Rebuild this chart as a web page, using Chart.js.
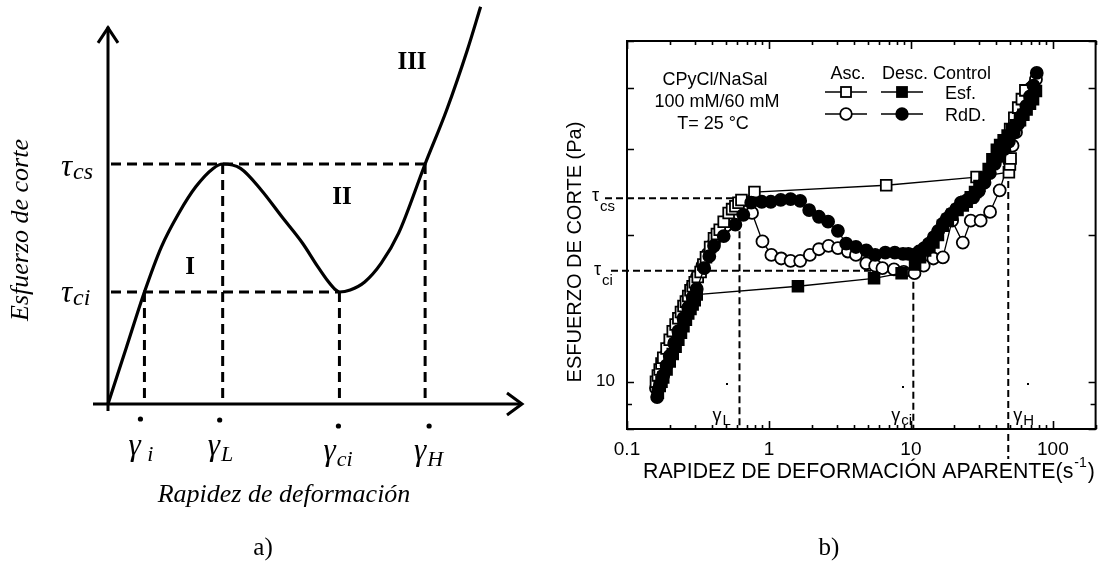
<!DOCTYPE html>
<html lang="es">
<head>
<meta charset="UTF-8">
<title>Esfuerzo de corte vs rapidez de deformación</title>
<script src="https://cdn.jsdelivr.net/npm/chart.js@4.4.1/dist/chart.umd.min.js"></script>
<style>
  html, body { margin: 0; padding: 0; background: #fff; }
  body { width: 1105px; height: 563px; position: relative; overflow: hidden; }
  #panelA { position: absolute; left: 0; top: 0; width: 540px; height: 563px; }
  #panelB { position: absolute; left: 540px; top: 0; width: 565px; height: 563px; }
</style>
</head>
<body>
<div id="panelA"><canvas id="chartA"></canvas></div>
<div id="panelB"><canvas id="chartB"></canvas></div>

<script>
// ---------- a) curva esquemática ----------
const curveX = [0, 4.4, 8.8, 12.9, 17.1, 21.2, 25.4, 27.7, 32.0, 37.0, 42.0, 47.0, 50.5, 53.2, 54.8, 55.9, 58.5, 62.0, 66.0, 70.2, 76.6, 81.8, 86.8, 90.0];
const curveY = [0, 14.0, 28.0, 39.3, 47.7, 54.3, 58.9, 60.0, 58.9, 53.5, 46.8, 40.2, 34.6, 30.6, 28.7, 28.0, 28.5, 30.5, 35.2, 42.7, 60.0, 73.5, 88.5, 99.3];
const tauLevels = [60, 28];              // tau_cs, tau_ci
const tauNames = ['cs', 'ci'];
const gammaX = [8.8, 27.7, 55.9, 76.6];  // gamma_i, gamma_L, gamma_ci, gamma_H
const gammaTop = [28, 60, 28, 60];
const gammaNames = ['i', 'L', 'ci', 'H'];
const regionNames = ['I', 'II', 'III'];

// ---------- b) datos experimentales ----------
// Asc. / Esf. (cuadro abierto)
const ascEsfX = [0.16,0.165,0.17,0.175,0.18,0.19,0.20,0.21,0.22,0.23,0.24,0.25,0.26,0.27,0.28,0.29,0.30,0.315,0.33,0.345,0.36,0.385,0.41,0.43,0.45,0.48,0.52,0.55,0.58,0.61,0.64,0.79,6.7,29,49,49.8,50.4,47.5,50,53.5,57,60.5,64];
const ascEsfY = [10.0,10.3,10.6,10.9,11.2,11.7,12.2,12.7,13.1,13.5,13.9,14.3,14.6,15.0,15.4,15.7,16.0,16.4,16.8,17.4,18.0,18.9,19.7,20.1,20.5,21.3,22.2,22.6,22.9,23.3,23.6,24.5,25.3,26.3,26.9,27.9,28.7,31.2,33.0,34.8,36.5,38.0,39.6];
// Desc. / Esf. (cuadro lleno)
const descEsfX = [76,72.5,69,65.3,62,58.7,55,51.5,48,45,42.5,40.3,37.5,35.3,33,30.4,28.3,26.4,24.7,23.2,21.3,19.6,18.2,16.8,15.5,14.4,13.5,12.6,11.6,10.7,8.6,5.5,1.6,0.31,0.30,0.29,0.28,0.27,0.26,0.25,0.24,0.23,0.22,0.21,0.20,0.19,0.18,0.175,0.17,0.165];
const descEsfY = [39.5,38.0,37.2,36.2,35.3,34.4,33.6,32.8,32.0,31.3,30.6,29.9,28.6,27.3,26.2,25.2,24.5,23.9,23.4,23.0,22.5,22.0,21.5,20.9,20.0,19.3,19.0,18.6,18.0,17.4,16.7,16.3,15.7,15.1,14.7,14.4,14.1,13.8,13.4,13.0,12.6,12.2,11.8,11.4,11.0,10.6,10.2,10.0,9.8,9.5];
// Asc. / RdD. (círculo abierto)
const ascRdDX = [0.16,0.17,0.18,0.19,0.20,0.215,0.23,0.25,0.27,0.29,0.31,0.34,0.37,0.41,0.45,0.50,0.55,0.61,0.68,0.76,0.90,1.04,1.22,1.42,1.66,1.94,2.25,2.63,3.06,3.6,4.1,4.85,5.6,6.3,7.6,8.9,10.6,12.3,14.4,16.8,19.5,23.2,26.4,31,36.1,42.2,49.1,52,55,58,62,66,70,76];
const ascRdDY = [9.7,10.3,10.9,11.4,11.9,12.6,13.3,14.1,14.9,15.7,16.4,17.3,18.3,19.3,20.1,20.9,21.5,22.0,22.3,22.2,19.4,18.2,17.9,17.7,17.7,18.2,18.7,19.0,18.8,18.5,18.2,17.5,17.3,17.1,17.0,16.8,16.7,17.3,17.9,18.0,21.4,19.3,21.4,21.4,22.3,24.7,28.4,30.5,32.5,34.5,36.5,38.5,40.0,41.7];
// Desc. / RdD. (círculo lleno)
const descRdDX = [77,73,69,65,61,57,53,49,45.5,42,39,36,33,30,27.5,25,22.5,20.8,19.2,17.9,16.8,15.6,14.5,13.4,12.4,11.4,10.4,9.6,8.8,7.7,6.6,5.6,4.85,4.1,3.5,3.06,2.61,2.25,1.92,1.66,1.42,1.21,1.03,0.89,0.75,0.66,0.58,0.48,0.41,0.38,0.35,0.31,0.29,0.27,0.25,0.23,0.215,0.20,0.19,0.18,0.17,0.163];
const descRdDY = [43.0,40.5,38.5,36.8,35.3,33.8,32.4,31.1,30.0,29.0,28.0,26.8,25.6,24.6,23.9,23.6,23.3,22.6,22.1,21.6,21.1,20.4,19.8,19.2,18.8,18.5,18.2,18.3,18.3,18.4,18.4,18.2,18.6,18.9,19.2,20.4,21.3,21.8,22.5,23.5,23.7,23.6,23.4,23.4,23.3,22.0,21.0,19.9,19.0,18.1,17.1,15.5,14.9,14.2,13.5,12.7,12.0,11.3,10.8,10.3,9.8,9.3];

// ejes de b)
const xTicks = [0.1,0.2,0.3,0.4,0.5,0.6,0.7,0.8,0.9,1,2,3,4,5,6,7,8,9,10,20,30,40,50,60,70,80,90,100,200];
const xLabelVals = [0.1, 1, 10, 100];
const xLabelText = ['0.1', '1', '10', '100'];
const yTicks = [8, 9, 10, 20, 30, 40, 50];
const yLabelVals = [10];
const yLabelText = ['10'];
// niveles críticos de b)
const tauB = [23.8, 16.9];               // tau_cs, tau_ci
const gammaB = [0.62, 10.4, 48.5];       // gamma_L, gamma_ci, gamma_H
const gammaBNames = ['L', 'ci', 'H'];
const gammaBTop = [23.8, 16.9, 27.2];

const SERIF = '"Liberation Serif", "Times New Roman", serif';
const SANS = '"Liberation Sans", Arial, sans-serif';
const OFFSET_B = 540;   // borde izquierdo del lienzo b) en la página

function pts(xs, ys) {
  return xs.map((x, i) => ({ x: x, y: ys[i] }));
}

function withSub(ctx, base, sub, x, y, font, subFont, dy) {
  ctx.font = font;
  ctx.fillText(base, x, y);
  const w = ctx.measureText(base).width;
  ctx.font = subFont;
  ctx.fillText(sub, x + w + 1, y + dy);
}

// ---------- panel a ----------
const schemaPlugin = {
  id: 'schema',
  beforeDatasetsDraw(chart) {
    const { ctx, scales: { x, y } } = chart;
    ctx.save();
    ctx.strokeStyle = '#000';
    ctx.lineWidth = 3;
    ctx.setLineDash([10, 6]);
    ctx.beginPath();
    ctx.moveTo(x.getPixelForValue(0) + 3, y.getPixelForValue(tauLevels[0]));
    ctx.lineTo(x.getPixelForValue(gammaX[3]), y.getPixelForValue(tauLevels[0]));
    ctx.moveTo(x.getPixelForValue(0) + 3, y.getPixelForValue(tauLevels[1]));
    ctx.lineTo(x.getPixelForValue(gammaX[2]), y.getPixelForValue(tauLevels[1]));
    gammaX.forEach((g, i) => {
      ctx.moveTo(x.getPixelForValue(g), y.getPixelForValue(gammaTop[i]));
      ctx.lineTo(x.getPixelForValue(g), y.getPixelForValue(0) - 2);
    });
    ctx.stroke();
    ctx.restore();
  },
  afterDraw(chart) {
    const { ctx, scales: { x, y } } = chart;
    const x0 = x.getPixelForValue(0), y0 = y.getPixelForValue(0);
    const xEnd = x.getPixelForValue(100), yEnd = y.getPixelForValue(94.3);
    ctx.save();
    ctx.strokeStyle = '#000';
    ctx.fillStyle = '#000';
    ctx.lineWidth = 3;
    ctx.beginPath();
    ctx.moveTo(x0, y0 + 7);
    ctx.lineTo(x0, yEnd);
    ctx.moveTo(x0 - 15, y0);
    ctx.lineTo(xEnd, y0);
    ctx.stroke();
    // puntas de flecha
    ctx.beginPath();
    ctx.moveTo(x0 - 10, yEnd + 16);
    ctx.lineTo(x0, yEnd + 1);
    ctx.lineTo(x0 + 10, yEnd + 16);
    ctx.moveTo(xEnd - 15, y0 - 11);
    ctx.lineTo(xEnd, y0);
    ctx.lineTo(xEnd - 15, y0 + 11);
    ctx.stroke();

    // tau
    ctx.textAlign = 'left';
    ctx.textBaseline = 'alphabetic';
    const tauDy = [12, 10];
    tauLevels.forEach((t, i) => {
      withSub(ctx, 'τ', tauNames[i], 61, y.getPixelForValue(t) + tauDy[i],
        'italic 31px ' + SERIF, 'italic 24px ' + SERIF, 3);
    });

    // gamma con punto
    const dotY = [419, 420, 426, 426];
    const dotDx = [-4, -3, -1, 4];
    const labY = [455, 455, 460, 460];
    const labDx = [-16, -15, -16, -11];
    gammaX.forEach((g, i) => {
      const px = x.getPixelForValue(g);
      ctx.beginPath();
      ctx.arc(px + dotDx[i], dotY[i], 2.6, 0, Math.PI * 2);
      ctx.fill();
      withSub(ctx, 'γ', (i === 0 ? ' ' : '') + gammaNames[i], px + labDx[i], labY[i],
        'italic 31px ' + SERIF, 'italic 22px ' + SERIF, 6);
    });

    // regiones
    ctx.textAlign = 'center';
    ctx.textBaseline = 'middle';
    ctx.font = 'bold 25px ' + SERIF;
    ctx.fillText(regionNames[0], 190, 268);
    ctx.fillText(regionNames[1], 342, 198);
    ctx.fillText(regionNames[2], 412, 63);

    // títulos
    ctx.font = 'italic 26px ' + SERIF;
    ctx.fillText('Rapidez de deformación', 284, 495);
    ctx.save();
    ctx.translate(21, 230);
    ctx.rotate(-Math.PI / 2);
    ctx.fillText('Esfuerzo de corte', 0, 0);
    ctx.restore();
    ctx.font = '25px ' + SERIF;
    ctx.fillText('a)', 263, 548);
    ctx.restore();
  }
};

new Chart(document.getElementById('chartA'), {
  type: 'scatter',
  data: {
    datasets: [{
      data: pts(curveX, curveY),
      showLine: true,
      borderColor: '#000',
      borderWidth: 3.2,
      pointRadius: 0,
      cubicInterpolationMode: 'monotone',
      clip: false
    }]
  },
  options: {
    responsive: true,
    maintainAspectRatio: false,
    animation: false,
    layout: { padding: { left: 108, right: 18, top: 4, bottom: 159 } },
    plugins: { legend: { display: false }, tooltip: { enabled: false } },
    scales: {
      x: { type: 'linear', min: 0, max: 100, display: false },
      y: { type: 'linear', min: 0, max: 100, display: false }
    }
  },
  plugins: [schemaPlugin]
});

// ---------- panel b ----------
const frameB = {
  id: 'frameB',
  beforeDatasetsDraw(chart) {
    const { ctx, chartArea: a, scales: { x, y } } = chart;
    ctx.save();
    ctx.strokeStyle = '#000';
    ctx.lineWidth = 2;
    ctx.setLineDash([7, 4]);
    ctx.beginPath();
    ctx.moveTo(a.left - 22, y.getPixelForValue(tauB[0]));
    ctx.lineTo(x.getPixelForValue(gammaB[0]), y.getPixelForValue(tauB[0]));
    ctx.moveTo(a.left - 16, y.getPixelForValue(tauB[1]));
    ctx.lineTo(x.getPixelForValue(gammaB[1]), y.getPixelForValue(tauB[1]));
    gammaB.forEach((g, i) => {
      ctx.moveTo(x.getPixelForValue(g), y.getPixelForValue(gammaBTop[i]));
      ctx.lineTo(x.getPixelForValue(g), a.bottom + (i === 2 ? 30 : 0));
    });
    ctx.stroke();
    ctx.restore();
  },
  afterDraw(chart) {
    const { ctx, chartArea: a, scales: { x, y } } = chart;
    const L = v => v - OFFSET_B;
    ctx.save();
    ctx.strokeStyle = '#000';
    ctx.fillStyle = '#000';
    ctx.lineWidth = 2;
    ctx.strokeRect(a.left, a.top, a.right - a.left, a.bottom - a.top);
    // marcas hacia dentro
    ctx.beginPath();
    xTicks.forEach(v => {
      const px = Math.round(x.getPixelForValue(v)) + 0.5;
      const len = xLabelVals.includes(v) ? 8 : 4;
      ctx.moveTo(px, a.bottom); ctx.lineTo(px, a.bottom - len);
      ctx.moveTo(px, a.top); ctx.lineTo(px, a.top + len);
    });
    yTicks.forEach(v => {
      const py = Math.round(y.getPixelForValue(v)) + 0.5;
      const len = v === 9 ? 5 : 7;
      ctx.moveTo(a.left, py); ctx.lineTo(a.left + len, py);
      ctx.moveTo(a.right, py); ctx.lineTo(a.right - len, py);
    });
    ctx.lineWidth = 1.6;
    ctx.stroke();

    // títulos de ejes
    ctx.textBaseline = 'alphabetic';
    ctx.textAlign = 'left';
    ctx.font = '21.3px ' + SANS;
    const t1 = 'RAPIDEZ DE DEFORMACIÓN APARENTE(s';
    const tx = L(643);
    ctx.fillText(t1, tx, 478);
    const w = ctx.measureText(t1).width;
    ctx.font = '14px ' + SANS;
    ctx.fillText('-1', tx + w + 1, 467);
    const w2 = ctx.measureText('-1').width;
    ctx.font = '21.3px ' + SANS;
    ctx.fillText(')', tx + w + w2 + 2, 478);

    ctx.save();
    ctx.translate(L(575), 252);
    ctx.rotate(-Math.PI / 2);
    ctx.textAlign = 'center';
    ctx.textBaseline = 'middle';
    ctx.font = '20px ' + SANS;
    ctx.fillText('ESFUERZO DE CORTE (Pa)', 0, 0);
    ctx.restore();

    // tau en el eje
    ctx.textAlign = 'left';
    withSub(ctx, 'τ', 'cs', L(592), y.getPixelForValue(tauB[0]) + 3, '18px ' + SANS, '15px ' + SANS, 10);
    withSub(ctx, 'τ', 'ci', L(594), y.getPixelForValue(tauB[1]) + 4, '18px ' + SANS, '15px ' + SANS, 10);

    // gamma en el eje x
    const gdx = [-27, -22, 5];
    gammaB.forEach((g, i) => {
      const px = x.getPixelForValue(g);
      withSub(ctx, 'γ', gammaBNames[i], px + gdx[i], 421, '18px ' + SANS, '15px ' + SANS, 4);
    });
    [[727, 384], [903, 387], [1028, 384]].forEach(p => {
      ctx.fillRect(L(p[0]) - 1, p[1] - 1, 2, 2);
    });

    // texto de la muestra
    ctx.textAlign = 'center';
    ctx.font = '18px ' + SANS;
    ctx.fillText('CPyCl/NaSal', L(715), 85);
    ctx.fillText('100 mM/60 mM', L(717), 107);
    ctx.fillText('T= 25 °C', L(713), 129);

    // leyenda
    ctx.fillText('Asc.', L(848), 79);
    ctx.textAlign = 'left';
    ctx.fillText('Desc. Control', L(882), 79);
    ctx.fillText('Esf.', L(945), 99);
    ctx.fillText('RdD.', L(945), 121);
    const rows = [92, 114];
    const cols = [L(846), L(902)];
    ctx.lineWidth = 1.3;
    rows.forEach(ry => cols.forEach(cx => {
      ctx.beginPath();
      ctx.moveTo(cx - 21, ry); ctx.lineTo(cx + 21, ry);
      ctx.stroke();
    }));
    ctx.lineWidth = 1.8;
    cols.forEach((cx, j) => {
      ctx.fillStyle = j === 0 ? '#fff' : '#000';
      ctx.fillRect(cx - 5, rows[0] - 5, 10, 10);
      ctx.strokeRect(cx - 5, rows[0] - 5, 10, 10);
      ctx.beginPath();
      ctx.arc(cx, rows[1], 5.8, 0, Math.PI * 2);
      ctx.fill();
      ctx.stroke();
    });

    ctx.fillStyle = '#000';
    ctx.textAlign = 'center';
    ctx.textBaseline = 'middle';
    ctx.font = '25px ' + SERIF;
    ctx.fillText('b)', L(829), 548);
    ctx.restore();
  }
};

function series(xs, ys, style, filled, order) {
  return {
    data: pts(xs, ys),
    showLine: true,
    borderColor: '#000',
    borderWidth: 1.3,
    pointStyle: style,
    pointRadius: style === 'rect' ? 7.6 : 6,
    pointBorderWidth: 1.8,
    pointBorderColor: '#000',
    pointBackgroundColor: filled ? '#000' : '#fff',
    order: order
  };
}

new Chart(document.getElementById('chartB'), {
  type: 'scatter',
  data: {
    datasets: [
      series(ascEsfX, ascEsfY, 'rect', false, 2),
      series(descEsfX, descEsfY, 'rect', true, 0),
      series(descRdDX, descRdDY, 'circle', true, 1),
      series(ascRdDX, ascRdDY, 'circle', false, 3)
    ]
  },
  options: {
    responsive: true,
    maintainAspectRatio: false,
    animation: false,
    layout: { padding: { left: 0, right: 2, top: 41, bottom: 0 } },
    plugins: { legend: { display: false }, tooltip: { enabled: false } },
    scales: {
      x: {
        type: 'logarithmic',
        min: 0.1,
        max: 200,
        grid: { display: false, drawTicks: false },
        border: { display: false },
        afterBuildTicks: s => { s.ticks = xTicks.map(v => ({ value: v })); },
        afterFit: s => { s.height = 134; },
        ticks: {
          autoSkip: false,
          maxRotation: 0,
          padding: 9,
          color: '#000',
          font: { family: SANS, size: 19 },
          callback: v => {
            const i = xLabelVals.indexOf(v);
            return i >= 0 ? xLabelText[i] : '';
          }
        }
      },
      y: {
        type: 'logarithmic',
        min: 8,
        max: 50,
        grid: { display: false, drawTicks: false },
        border: { display: false },
        afterBuildTicks: s => { s.ticks = yTicks.map(v => ({ value: v })); },
        afterFit: s => { s.width = 87; },
        ticks: {
          autoSkip: false,
          padding: 12,
          color: '#000',
          font: { family: SANS, size: 17 },
          callback: v => {
            const i = yLabelVals.indexOf(v);
            return i >= 0 ? yLabelText[i] : '';
          }
        }
      }
    }
  },
  plugins: [frameB]
});
</script>
</body>
</html>
